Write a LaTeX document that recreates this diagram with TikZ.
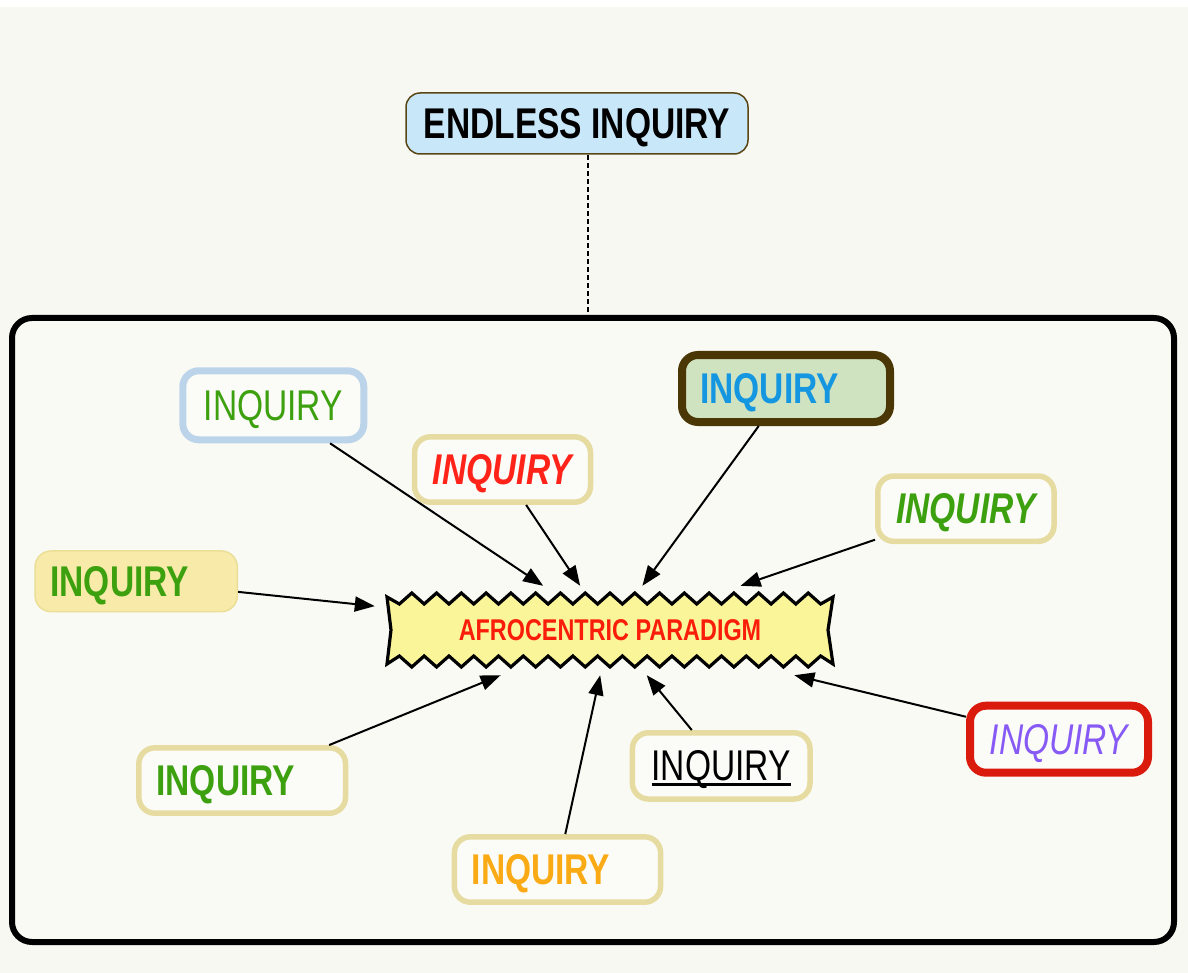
\documentclass[tikz,border=0pt]{standalone}
\usepackage{fontspec}
\setmainfont[FakeStretch=0.78]{Liberation Sans}
\usetikzlibrary{arrows.meta}
\definecolor{bgc}{RGB}{248,248,243}
\definecolor{framefill}{RGB}{250,250,245}
\definecolor{boxfill}{RGB}{251,251,247}
\definecolor{tanc}{RGB}{230,219,160}
\definecolor{lblue}{RGB}{188,212,234}
\definecolor{dbrown}{RGB}{75,55,5}
\definecolor{redb}{RGB}{218,26,12}
\definecolor{yfill}{RGB}{248,235,170}
\definecolor{yborder}{RGB}{235,222,150}
\definecolor{gfill}{RGB}{207,227,192}
\definecolor{efill}{RGB}{200,232,250}
\definecolor{eborder}{RGB}{90,70,20}
\definecolor{zzfill}{RGB}{251,245,154}
\definecolor{tgreen}{RGB}{60,160,15}
\definecolor{tred}{RGB}{255,35,25}
\definecolor{tblue}{RGB}{20,150,225}
\definecolor{torange}{RGB}{250,170,20}
\definecolor{tpurple}{RGB}{135,90,245}
\definecolor{cred}{RGB}{250,30,10}
\tikzset{
  big/.style={font=\fontsize{43}{50}\selectfont},
  ibox/.style={big, rounded corners=16pt, inner sep=0pt, text height=29.6pt, text depth=0pt, fill=boxfill},
  tanbox/.style={ibox, draw=tanc, line width=5.5pt},
  arr/.style={-{Triangle[length=20pt,width=15pt]}, line width=2pt, black},
}
\newcommand{\padr}{\hspace*{33pt}}
\newcommand{\ulword}[1]{\setbox0\hbox{#1}\rlap{\rule[-5pt]{\wd0}{2.7pt}}\box0}
\begin{document}
\begin{tikzpicture}[x=1pt,y=-1pt]
\fill[white] (0,0) rectangle (1188,973);
\fill[bgc] (0,7) rectangle (1188,973);
\useasboundingbox (0,0) rectangle (1188,973);

% frame
\node[draw=black, line width=6pt, fill=framefill, rounded corners=20pt,
      minimum width=1162pt, minimum height=624pt, inner sep=0pt] (F) at (593,630) {};

% top node
\node[big, draw=eborder, line width=1.5pt, fill=efill, rounded corners=14pt,
      minimum width=342pt, minimum height=61pt, inner sep=0pt,
      text height=29.6pt, text depth=0pt, font=\fontsize{43}{50}\selectfont\bfseries] (E) at (577,123.5) {ENDLESS INQUIRY};
\coordinate (dx) at (588,0);
\draw[line width=1.5pt, dash pattern=on 5pt off 3pt] (E.south -| dx) -- (F.north -| dx);

% zigzag centre shape
\filldraw[fill=zzfill, draw=black, line width=3.2pt, line join=miter]
  (387,597)
  \foreach \k in {1,...,35} { -- ({387+\k*12.3889},{ifthenelse(mod(\k,2)==1,604,593)}) }
  -- (833,597) -- (828,630) -- (833,664)
  \foreach \k in {1,...,35} { -- ({833-\k*12.3889},{ifthenelse(mod(\k,2)==1,656,667)}) }
  -- (387,664) -- (391,630) -- cycle;
\node[minimum width=470pt, minimum height=89pt, inner sep=0pt, text height=20.6pt, text depth=0pt,
      font=\fontsize{30}{36}\selectfont\bfseries, text=cred] (C) at (610,630.5) {AFROCENTRIC PARADIGM};

% inquiry boxes
\node[ibox, draw=lblue, line width=7pt, minimum width=181pt, minimum height=69pt, text=tgreen]
  (B1) at (273.3,405.3) {INQUIRY};
\node[tanbox, minimum width=176pt, minimum height=65.4pt, text=tred, font=\fontsize{43}{50}\selectfont\bfseries\itshape]
  (B2) at (502.5,469.5) {INQUIRY};
\node[ibox, draw=dbrown, line width=8pt, fill=gfill, minimum width=208pt, minimum height=67pt, text=tblue, font=\fontsize{43}{50}\selectfont\bfseries]
  (B3) at (786,388.5) {INQUIRY\padr};
\node[tanbox, minimum width=176.3pt, minimum height=65.3pt, text=tgreen, font=\fontsize{43}{50}\selectfont\bfseries\itshape]
  (B4) at (965.9,508.7) {INQUIRY};
\node[ibox, draw=yborder, line width=1.5pt, fill=yfill, minimum width=202.3pt, minimum height=60.7pt, text=tgreen, font=\fontsize{43}{50}\selectfont\bfseries]
  (B5) at (136.2,581.3) {INQUIRY\padr};
\node[tanbox, minimum width=206.7pt, minimum height=65.4pt, text=tgreen, font=\fontsize{43}{50}\selectfont\bfseries]
  (B6) at (242.2,780.5) {INQUIRY\padr};
\node[tanbox, minimum width=206.2pt, minimum height=65.4pt, text=torange, font=\fontsize{43}{50}\selectfont\bfseries]
  (B7) at (557.5,869.5) {INQUIRY\padr};
\node[tanbox, minimum width=177.6pt, minimum height=66.2pt, text=black]
  (B8) at (721.2,765.9) {\ulword{INQUIRY}};
\node[ibox, draw=redb, line width=8pt, minimum width=178pt, minimum height=67pt, text=tpurple, font=\fontsize{43}{50}\selectfont\itshape]
  (B9) at (1059,739.2) {INQUIRY};

% connectors
\foreach \b in {B1,B2,B3,B4,B5,B6,B7,B8,B9} { \draw[arr] (\b) -- (C); }
\end{tikzpicture}
\end{document}
